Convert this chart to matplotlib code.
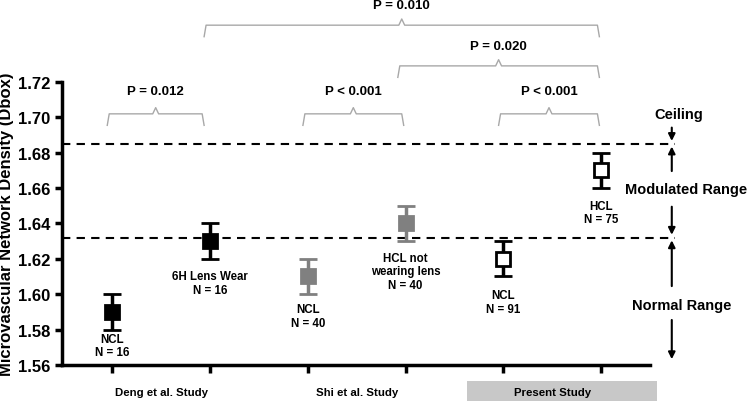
import matplotlib.pyplot as plt
from matplotlib.patches import Rectangle

plt.rcParams['font.family'] = ['Liberation Sans', 'DejaVu Sans']
plt.rcParams['font.weight'] = 'bold'

# Data
positions = [1, 2, 3, 4, 5, 6]
means = [1.59, 1.63, 1.61, 1.64, 1.62, 1.67]
errors = [0.01, 0.01, 0.01, 0.01, 0.01, 0.01]
edge_colors = ['black', 'black', '#808080', '#808080', 'black', 'black']
face_colors = ['black', 'black', '#808080', '#808080', 'white', 'white']
point_labels = ['NCL\nN = 16', '6H Lens Wear\nN = 16', 'NCL\nN = 40',
                'HCL not\nwearing lens\nN = 40', 'NCL\nN = 91', 'HCL\nN = 75']
label_y = [1.571, 1.6064, 1.5877, 1.613, 1.5956, 1.646]
groups = ['Deng et al. Study', 'Shi et al. Study', 'Present Study']
ceiling = 1.685
normal_top = 1.632

# P-value brackets: (x start, x end, height, text, text height)
brackets = [(0.95, 1.94, 1.7019, 'P = 0.012', 1.715),
            (2.95, 3.98, 1.7019, 'P < 0.001', 1.715),
            (4.95, 5.98, 1.7019, 'P < 0.001', 1.715),
            (3.92, 5.98, 1.729, 'P = 0.020', 1.7405),
            (1.94, 5.98, 1.752, 'P = 0.010', 1.7635)]

fig = plt.figure(figsize=(7.5, 4.02), dpi=100)
ax = fig.add_axes([0.083, 0.0896, 0.784, 0.7044])

for x, m, e, ec, fc in zip(positions, means, errors, edge_colors, face_colors):
    ax.errorbar(x, m, yerr=e, fmt='s', color=ec, markerfacecolor=fc,
                markeredgecolor=ec, markersize=10, markeredgewidth=2,
                elinewidth=2.5, capsize=6.5, capthick=2.5, zorder=3)

for x, y, t in zip(positions, label_y, point_labels):
    ax.text(x, y, t, ha='center', va='center', fontsize=8.3, fontweight='bold',
            linespacing=1.15)

ax.plot([0.49, 6.75], [ceiling, ceiling], color='black', ls='--', lw=1.5,
        dashes=(4, 3), clip_on=False)
ax.plot([0.49, 6.75], [normal_top, normal_top], color='black', ls='--', lw=1.5,
        dashes=(4, 3), clip_on=False)

# Braces
gray = '#a8a8a8'
for x0, x1, h, t, ty in brackets:
    mid = (x0 + x1) / 2
    xs = [x0, x0 + 0.02, mid - 0.03, mid, mid + 0.03, x1 - 0.02, x1]
    ys = [h - 0.0065, h, h, h + 0.0035, h, h, h - 0.0065]
    ax.plot(xs, ys, color=gray, lw=1, clip_on=False)
    ax.text(mid, ty, t, ha='center', va='center', fontsize=9.5,
            fontweight='bold', clip_on=False)

# Range annotations on the right
xr = 6.72
akw = dict(arrowstyle='-|>', color='black', lw=1.5, mutation_scale=10)
ax.text(6.79, 1.702, 'Ceiling', ha='center', va='center', fontsize=10.5,
        fontweight='bold')
ax.annotate('', xy=(xr, ceiling), xytext=(xr, 1.6957), arrowprops=akw,
            annotation_clip=False)
ax.annotate('', xy=(xr, ceiling), xytext=(xr, 1.668), arrowprops=akw,
            annotation_clip=False)
ax.text(6.87, 1.6595, 'Modulated Range', ha='center', va='center',
        fontsize=10.5, fontweight='bold')
ax.annotate('', xy=(xr, normal_top), xytext=(xr, 1.651), arrowprops=akw,
            annotation_clip=False)
ax.annotate('', xy=(xr, normal_top), xytext=(xr, 1.603), arrowprops=akw,
            annotation_clip=False)
ax.text(6.82, 1.594, 'Normal Range', ha='center', va='center', fontsize=10.5,
        fontweight='bold')
ax.annotate('', xy=(xr, 1.5617), xytext=(xr, 1.587), arrowprops=akw,
            annotation_clip=False)

# Group labels
group_x = [1.5, 3.5, 5.5]
ax.add_patch(Rectangle((4.63, 1.5397), 1.94, 0.0113, facecolor='#c8c8c8',
                       edgecolor='none', clip_on=False))
for gx, g in zip(group_x, groups):
    ax.text(gx, 1.5448, g, ha='center', va='center', fontsize=8.2,
            fontweight='bold')

ax.set_xlim(0.49, 6.5)
ax.set_ylim(1.56, 1.72)
ax.set_yticks([1.56, 1.58, 1.60, 1.62, 1.64, 1.66, 1.68, 1.70, 1.72])
ax.set_yticklabels([f'{v:.2f}' for v in ax.get_yticks()], fontsize=12,
                   fontweight='bold')
ax.set_xticks(positions)
ax.set_xticklabels([])
ax.tick_params(axis='both', direction='out', width=2.5, length=5)
ax.tick_params(axis='x', length=6)
for s in ['top', 'right']:
    ax.spines[s].set_visible(False)
for s in ['left', 'bottom']:
    ax.spines[s].set_linewidth(2.5)
ax.set_ylabel('Microvascular Network Density (Dbox)', fontsize=12,
              fontweight='bold', labelpad=3)

fig.savefig('out.png', dpi=100)
